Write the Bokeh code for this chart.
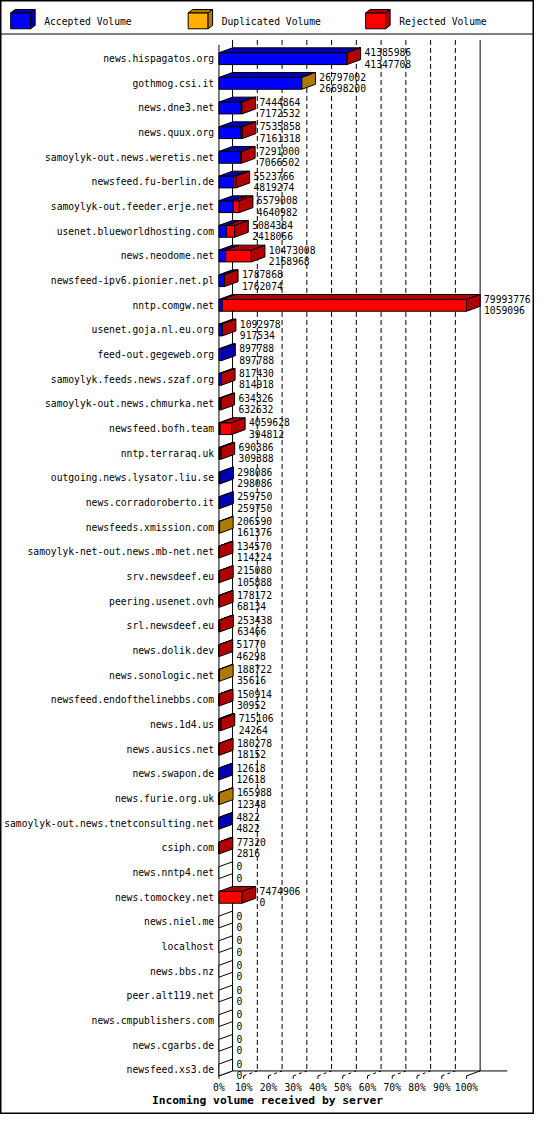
import numpy as np
from bokeh.plotting import figure
from bokeh.models import Range1d, Span
from bokeh.core.properties import value
from bokeh.embed import file_html
from bokeh.resources import INLINE

hosts = ["news.hispagatos.org", "gothmog.csi.it", "news.dne3.net", "news.quux.org",
         "samoylyk-out.news.weretis.net", "newsfeed.fu-berlin.de",
         "samoylyk-out.feeder.erje.net", "usenet.blueworldhosting.com",
         "news.neodome.net", "newsfeed-ipv6.pionier.net.pl", "nntp.comgw.net",
         "usenet.goja.nl.eu.org", "feed-out.gegeweb.org", "samoylyk.feeds.news.szaf.org",
         "samoylyk-out.news.chmurka.net", "newsfeed.bofh.team", "nntp.terraraq.uk",
         "outgoing.news.lysator.liu.se", "news.corradoroberto.it", "newsfeeds.xmission.com",
         "samoylyk-net-out.news.mb-net.net", "srv.newsdeef.eu", "peering.usenet.ovh",
         "srl.newsdeef.eu", "news.dolik.dev", "news.sonologic.net",
         "newsfeed.endofthelinebbs.com", "news.1d4.us", "news.ausics.net", "news.swapon.de",
         "news.furie.org.uk", "samoylyk-out.news.tnetconsulting.net", "csiph.com",
         "news.nntp4.net", "news.tomockey.net", "news.niel.me", "localhost", "news.bbs.nz",
         "peer.alt119.net", "news.cmpublishers.com", "news.cgarbs.de", "newsfeed.xs3.de"]

offered = [41385986, 26797002, 7444864, 7535858, 7291000, 5523766, 6579008, 5084384,
           10473008, 1787868, 79993776, 1092978, 897788, 817430, 634326, 4059628, 690386,
           298086, 259750, 206590, 134570, 215080, 178172, 253438, 51770, 188722, 150914,
           715106, 180278, 12618, 165988, 4822, 77320, 0, 7474906, 0, 0, 0, 0, 0, 0, 0]

accepted = [41347708, 26698200, 7172532, 7161318, 7066502, 4819274, 4640982, 2418066,
            2168968, 1762074, 1059096, 917534, 897788, 814918, 632632, 394812, 309388,
            298086, 259750, 161376, 114224, 105888, 68134, 63466, 46298, 35616, 30952,
            24264, 18152, 12618, 12348, 4822, 2816, 0, 0, 0, 0, 0, 0, 0, 0, 0]

# duplicated part (orange); the rest is rejected
duplicated = [0, 98802, 0, 0, 0, 0, 0, 0, 0, 0, 0, 0, 0, 0, 0, 0, 0, 0, 0, 45214,
              0, 0, 0, 0, 0, 153106, 0, 300000, 0, 0, 153640, 0, 0, 0, 0, 0, 0, 0, 0,
              0, 0, 0]

series = ["Accepted Volume", "Duplicated Volume", "Rejected Volume"]
front_colors = ["#0000FF", "#FFB000", "#FF0000"]
shade_colors = ["#0000B0", "#B07A00", "#B00000"]
tick_pcts = list(range(0, 101, 10))
tick_labels = ["%d%%" % t for t in tick_pcts]
axis_title = "Incoming volume received by server"

# layout of the original 550x1130 picture: 0% at x=225, 2.55px per percent,
# first row at y=59 and rows 25.02px apart
X0, XS = 225.0, 2.55
Y0, YS = 59.0, 25.02


def px_x(px):
    return (px - X0) / XS


def px_y(px):
    return (px - Y0) / YS


DX = 14 / XS    # depth of the 3d effect
DY = 5 / YS
HALF = 6 / YS   # half height of a bar front
FONT = value("DejaVu Sans Mono")
SMALL = "9.7px"

p = figure(width=534, height=1114, output_backend="svg", toolbar_location=None,
           x_range=Range1d(px_x(0), px_x(550)), y_range=Range1d(px_y(1130), px_y(0)),
           x_axis_location=None, y_axis_location=None, min_border=0)
p.grid.visible = False
p.outline_line_color = "black"
p.outline_line_width = 2
p.background_fill_color = "white"

n = len(hosts)
rows = np.arange(n)
front_top, front_bot = px_y(45), (n - 1) + HALF
back_top, back_bot = front_top - DY, front_bot - DY

# back wall grid
mid = [t + DX for t in tick_pcts[1:-1]]
p.segment(mid, [back_top] * len(mid), mid, [back_bot] * len(mid),
          line_color="black", line_dash="5 3")
p.segment([DX, 100 + DX], [back_top] * 2, [DX, 100 + DX], [back_bot] * 2, line_color="black")
p.segment([0], [front_top], [0], [front_bot], line_color="black")

# floor
p.segment([DX], [back_bot], [px_x(522)], [back_bot], line_color="black")
p.segment([0, 100], [front_bot] * 2, [DX, 100 + DX], [back_bot] * 2, line_color="black")
p.segment(tick_pcts[1:-1], [front_bot] * len(mid), mid, [back_bot] * len(mid),
          line_color="black", line_dash="3 3")
p.segment(tick_pcts, [front_bot] * 11, tick_pcts, [front_bot + 3 / YS] * 11, line_color="black")
p.text(tick_pcts, [px_y(1103)] * 11, text=tick_labels, text_font=FONT, text_font_size=SMALL,
       text_align="center", text_baseline="middle", text_color="black")
p.text([px_x(275)], [px_y(1116)], text=[axis_title], text_font=FONT, text_font_size="11.3px",
       text_font_style="bold", text_align="center", text_baseline="middle", text_color="black")

# bars
tot = np.array(offered, dtype=float)
acc = np.array(accepted, dtype=float)
dup = np.array(duplicated, dtype=float)
rej = tot - acc - dup
scale = 100.0 / tot.max()
parts = [acc * scale, dup * scale, rej * scale]

fl, fr, ft, fb, fc = [], [], [], [], []
px_, py_, pc_ = [], [], []
last = ["white"] * n
left = np.zeros(n)
for k in range(3):
    right = left + parts[k]
    for i in range(n):
        if parts[k][i] <= 0:
            continue
        c = rows[i]
        fl.append(left[i]); fr.append(right[i])
        ft.append(c - HALF); fb.append(c + HALF)
        fc.append(front_colors[k])
        px_.append([left[i], right[i], right[i] + DX, left[i] + DX])
        py_.append([c - HALF, c - HALF, c - HALF - DY, c - HALF - DY])
        pc_.append(shade_colors[k])
        last[i] = shade_colors[k]
    left = right

ends = tot * scale
for i in range(n):
    c = rows[i]
    px_.append([ends[i], ends[i] + DX, ends[i] + DX, ends[i]])
    py_.append([c - HALF, c - HALF - DY, c + HALF - DY, c + HALF])
    pc_.append(last[i])

p.quad(left=fl, right=fr, top=ft, bottom=fb, fill_color=fc, line_color="black")
p.patches(px_, py_, fill_color=pc_, line_color="black")

lab_x = ends + DX + 4 / XS
p.text(lab_x, rows - 6.4 / YS, text=[str(v) for v in offered], text_font=FONT,
       text_font_size=SMALL, text_baseline="middle", text_color="black")
p.text(lab_x, rows + 5.2 / YS, text=[str(v) for v in accepted], text_font=FONT,
       text_font_size=SMALL, text_baseline="middle", text_color="black")
p.text([px_x(220)] * n, rows, text=hosts, text_font=FONT, text_font_size=SMALL,
       text_align="right", text_baseline="middle", text_color="black")

# legend
ldx, ldy = 4.7 / XS, 3.4 / YS
for j, name in enumerate(series):
    off = 182.8 * j
    l, r = px_x(10.5 + off), px_x(31 + off)
    t, b = px_y(12.5), px_y(28.7)
    p.quad(left=[l], right=[r], top=[t], bottom=[b], fill_color=front_colors[j], line_color="black")
    p.patch([l, r, r + ldx, l + ldx], [t, t, t - ldy, t - ldy],
            fill_color=shade_colors[j], line_color="black")
    p.patch([r, r + ldx, r + ldx, r], [t, t - ldy, b - ldy, b],
            fill_color=shade_colors[j], line_color="black")
    p.text([px_x(45 + off)], [px_y(21)], text=[name], text_font=FONT, text_font_size=SMALL,
           text_baseline="middle", text_color="black")

p.add_layout(Span(location=px_y(34), dimension="width", line_color="black", line_width=1))

open("out.html", "w").write(file_html(p, INLINE))
